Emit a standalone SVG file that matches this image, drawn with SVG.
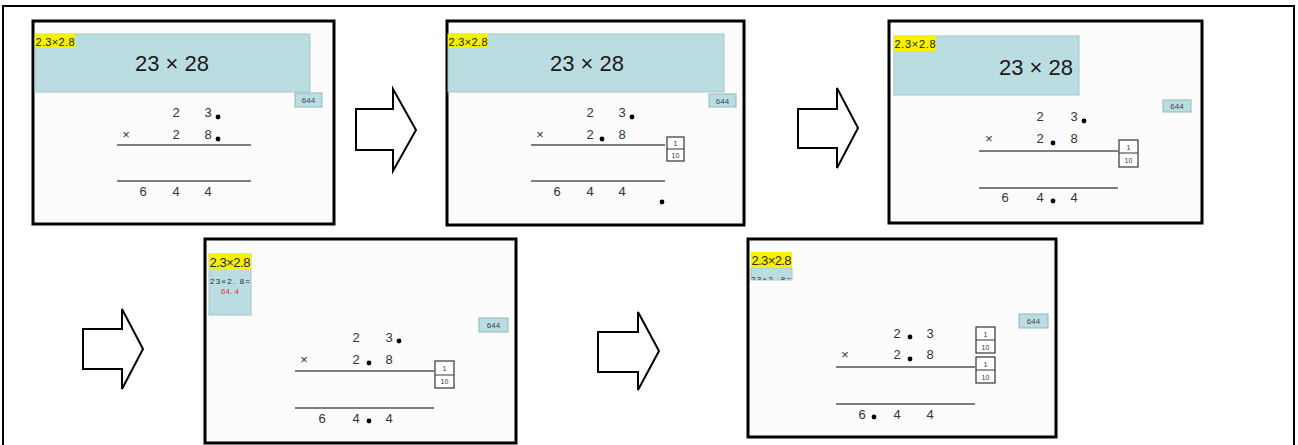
<svg xmlns="http://www.w3.org/2000/svg" width="1298" height="445" viewBox="0 0 1298 445">
<defs>
<style>
text{font-family:"Liberation Sans",Arial,sans-serif;fill:#2a2a2a}
.frame{fill:#fcfcfc;stroke:#000;stroke-width:3}
.blue{fill:#badde2;stroke:#a3c6cc;stroke-width:1}
.yel{fill:#f7f000}
.lbl{font-size:11px;fill:#222}
.big{font-size:22px;text-anchor:middle;fill:#1a1a1a}
.ans{fill:#badde2;stroke:#8fb6bd;stroke-width:1}
.anst{font-size:8px;text-anchor:middle;fill:#444}
.d{font-size:13px;text-anchor:middle;fill:#333}
.rule{stroke:#555;stroke-width:1.5}
.dot{fill:#000}
.fr{fill:#fff;stroke:#333;stroke-width:1.2}
.frt{font-size:7px;text-anchor:middle;fill:#333}
.arrow{fill:#fff;stroke:#000;stroke-width:2}
</style>
<clipPath id="c5"><rect x="751" y="252" width="41" height="28"/></clipPath>
</defs>
<rect x="3" y="6" width="1291" height="460" fill="#fff" stroke="#000" stroke-width="2"/>

<g id="panel1">
<rect class="frame" x="33" y="21" width="301" height="203"/>
<rect class="blue" x="35" y="34" width="275" height="58"/>
<rect class="yel" x="35" y="34" width="40" height="14"/>
<text class="lbl" x="35.5" y="45.5" textLength="39">2.3×2.8</text>
<text class="big" x="172" y="71">23 × 28</text>
<rect class="ans" x="295" y="93" width="27" height="14"/>
<text class="anst" x="308.5" y="103">644</text>
<text class="d" x="176" y="117">2</text><text class="d" x="208" y="117">3</text>
<circle class="dot" cx="218" cy="117" r="2.4"/>
<text class="d" x="126" y="139">×</text><text class="d" x="176" y="139">2</text><text class="d" x="208" y="139">8</text>
<circle class="dot" cx="218" cy="139" r="2.4"/>
<line class="rule" x1="117" y1="145" x2="251" y2="145"/>
<line class="rule" x1="117" y1="181" x2="251" y2="181"/>
<text class="d" x="143" y="196">6</text><text class="d" x="176" y="196">4</text><text class="d" x="208" y="196">4</text>
</g>

<g id="panel2">
<rect class="frame" x="447" y="21" width="297" height="204"/>
<rect class="blue" x="448" y="34" width="276" height="58"/>
<rect class="yel" x="448" y="34" width="40" height="14"/>
<text class="lbl" x="448.5" y="45.5" textLength="39">2.3×2.8</text>
<text class="big" x="587" y="71">23 × 28</text>
<rect class="ans" x="709" y="94" width="27" height="13"/>
<text class="anst" x="722.5" y="103.5">644</text>
<text class="d" x="590" y="117">2</text><text class="d" x="622" y="117">3</text>
<circle class="dot" cx="632" cy="117" r="2.4"/>
<text class="d" x="540" y="139">×</text><text class="d" x="590" y="139">2</text><text class="d" x="622" y="139">8</text>
<circle class="dot" cx="602" cy="139" r="2.4"/>
<line class="rule" x1="531" y1="145" x2="665" y2="145"/>
<rect class="fr" x="667" y="137" width="17" height="24"/>
<line x1="667" y1="149" x2="684" y2="149" stroke="#333" stroke-width="1"/>
<text class="frt" x="675.5" y="146">1</text><text class="frt" x="675.5" y="158">10</text>
<line class="rule" x1="531" y1="181" x2="665" y2="181"/>
<text class="d" x="557" y="196">6</text><text class="d" x="590" y="196">4</text><text class="d" x="622" y="196">4</text>
<circle class="dot" cx="662" cy="202" r="2.4"/>
</g>

<g id="panel3">
<rect class="frame" x="889" y="21" width="313" height="202"/>
<rect class="blue" x="894" y="36" width="185" height="59"/>
<rect class="yel" x="894" y="36" width="42" height="15"/>
<text class="lbl" x="894.5" y="48" textLength="41">2.3×2.8</text>
<text class="big" x="1036" y="75" font-size="23">23 × 28</text>
<rect class="ans" x="1163" y="100" width="28" height="12"/>
<text class="anst" x="1177" y="109">644</text>
<text class="d" x="1040" y="121">2</text><text class="d" x="1074" y="121">3</text>
<circle class="dot" cx="1084" cy="121" r="2.4"/>
<text class="d" x="989" y="143">×</text><text class="d" x="1040" y="143">2</text><text class="d" x="1074" y="143">8</text>
<circle class="dot" cx="1053" cy="143" r="2.4"/>
<line class="rule" x1="979" y1="151" x2="1118" y2="151"/>
<rect class="fr" x="1119" y="140" width="19" height="27"/>
<line x1="1119" y1="153" x2="1138" y2="153" stroke="#333" stroke-width="1"/>
<text class="frt" x="1128.5" y="150">1</text><text class="frt" x="1128.5" y="163">10</text>
<line class="rule" x1="979" y1="188" x2="1118" y2="188"/>
<text class="d" x="1005" y="202">6</text><text class="d" x="1040" y="202">4</text><text class="d" x="1074" y="202">4</text>
<circle class="dot" cx="1053" cy="201" r="2.4"/>
</g>

<g id="panel4">
<rect class="frame" x="205" y="239" width="311" height="204"/>
<rect class="blue" x="209" y="254" width="42" height="61"/>
<rect class="yel" x="209" y="254" width="42" height="16"/>
<text x="209.5" y="267" font-size="13" textLength="41" fill="#222">2.3×2.8</text>
<text x="230" y="284" font-size="8" text-anchor="middle" fill="#444" textLength="40">23×2. 8=</text>
<text x="230" y="294" font-size="8" text-anchor="middle" style="fill:#e03838">64. 4</text>
<rect class="ans" x="479" y="318" width="29" height="14"/>
<text class="anst" x="493.5" y="328">644</text>
<text class="d" x="356" y="342">2</text><text class="d" x="389" y="342">3</text>
<circle class="dot" cx="399" cy="341" r="2.4"/>
<text class="d" x="304" y="364">×</text><text class="d" x="356" y="364">2</text><text class="d" x="389" y="364">8</text>
<circle class="dot" cx="369" cy="363" r="2.4"/>
<line class="rule" x1="295" y1="371" x2="434" y2="371"/>
<rect class="fr" x="435" y="361" width="19" height="27"/>
<line x1="435" y1="375" x2="454" y2="375" stroke="#333" stroke-width="1"/>
<text class="frt" x="444.5" y="371">1</text><text class="frt" x="444.5" y="384">10</text>
<line class="rule" x1="295" y1="408" x2="434" y2="408"/>
<text class="d" x="322" y="423">6</text><text class="d" x="356" y="423">4</text><text class="d" x="389" y="423">4</text>
<circle class="dot" cx="369" cy="421" r="2.4"/>
</g>

<g id="panel5">
<rect class="frame" x="748" y="239" width="308" height="198"/>
<rect class="blue" x="751" y="268" width="41" height="12"/>
<rect class="yel" x="751" y="252" width="41" height="16"/>
<text x="751.5" y="265" font-size="13" textLength="40" fill="#222">2.3×2.8</text>
<g clip-path="url(#c5)"><text x="771" y="282" font-size="8" text-anchor="middle" fill="#444" textLength="40">23×2. 8=</text></g>
<rect class="ans" x="1019" y="314" width="29" height="14"/>
<text class="anst" x="1033.5" y="324">644</text>
<text class="d" x="897" y="338">2</text><text class="d" x="930" y="338">3</text>
<circle class="dot" cx="910" cy="337" r="2.4"/>
<text class="d" x="845" y="359">×</text><text class="d" x="897" y="359">2</text><text class="d" x="930" y="359">8</text>
<circle class="dot" cx="910" cy="359" r="2.4"/>
<rect class="fr" x="976" y="327" width="19" height="26"/>
<line x1="976" y1="340" x2="995" y2="340" stroke="#333" stroke-width="1"/>
<text class="frt" x="985.5" y="337">1</text><text class="frt" x="985.5" y="350">10</text>
<rect class="fr" x="976" y="357" width="19" height="26"/>
<line x1="976" y1="370" x2="995" y2="370" stroke="#333" stroke-width="1"/>
<text class="frt" x="985.5" y="367">1</text><text class="frt" x="985.5" y="380">10</text>
<line class="rule" x1="836" y1="367" x2="975" y2="367"/>
<line class="rule" x1="836" y1="404" x2="975" y2="404"/>
<text class="d" x="862" y="419">6</text><text class="d" x="897" y="419">4</text><text class="d" x="930" y="419">4</text>
<circle class="dot" cx="874" cy="417" r="2.4"/>
</g>

<g id="connectors">
<polygon class="arrow" points="356,109 393,109 393,89 416,130 393,171 393,150 356,150"/>
<polygon class="arrow" points="798,109 837,109 837,88 858,128 837,168 837,148 798,148"/>
<polygon class="arrow" points="83,329 122,329 122,309 143,349 122,389 122,369 83,369"/>
<polygon class="arrow" points="598,332 638,332 638,312 659,351 638,390 638,372 598,372"/>
</g>
</svg>
